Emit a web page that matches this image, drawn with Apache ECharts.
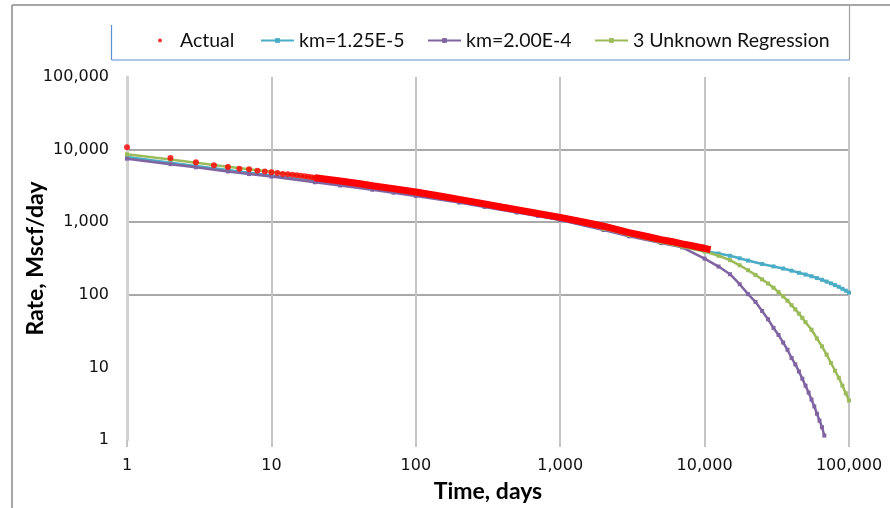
<!DOCTYPE html>
<html>
<head>
<meta charset="utf-8">
<script src="https://cdn.jsdelivr.net/npm/echarts@6/dist/echarts.min.js"></script>
<style>html,body{margin:0;padding:0;background:#fff;}#c{width:890px;height:508px;}</style>
</head>
<body>
<div id="c"></div>
<script>
// ---- data ----
const actualDaysSparse = [1,2,3,4,5,6,7,8,9,10,11,12,13,14,15,16,17,18,19,20];
const actualRateSparse = [10800,7650,6700,6100,5750,5450,5350,5130,5000,4870,4760,4620,4560,4520,4420,4380,4290,4240,4150,4100];
const actualDaysBand = [20,30,40,50,70,100,150,200,300,400,500,700,1000,1500,2000,3000,4000,5000,6000,7000,8000,9000,10000,11000];
const actualRateBand = [4100,3700,3420,3180,2900,2600,2280,2060,1790,1610,1490,1320,1165,990,880,718,636,576,539,503,479,456,437,420];

const cyanDays = [1,2,3,5,7,10,20,30,50,70,100,200,300,500,700,1000,2000,3000,5000,7000,10000,12500,15000,17500,20000,25000,30000,35000,40000,45000,50000,55000,60000,65000,70000,75000,80000,85000,90000,95000,100000];
const cyanRate = [7900,6600,5950,5250,4800,4400,3660,3300,2880,2630,2400,1910,1660,1390,1240,1080,800,660,530,460,400,370,345,318,296,266,246,230,215,201,190,180,170,161,152,144,136,129,121,114,107];

const purpleDays = [1,2,3,5,7,10,20,30,50,70,100,200,300,500,700,1000,2000,3000,5000,7000,10000,12500,15000,17500,20000,22500,25000,27500,30000,32500,35000,37500,40000,42500,45000,47500,50000,52500,55000,57500,60000,62500,65000,67500];
const purpleRate = [7500,6300,5700,5000,4600,4250,3550,3200,2800,2550,2300,1860,1620,1360,1220,1070,780,640,515,450,315,245,192,140,102,80,60,46,35,28,22,17.5,13.5,11,8.8,7,5.6,4.5,3.6,2.9,2.3,1.85,1.5,1.15];

const greenDays = [1,2,3,5,7,10,20,30,50,70,100,200,300,500,700,1000,2000,3000,5000,7000,10000,12500,15000,17500,20000,22500,25000,27500,30000,32500,35000,37500,40000,42500,45000,47500,50000,55000,60000,65000,70000,75000,80000,85000,90000,95000,100000];
const greenRate = [8600,7300,6600,5800,5350,4950,4050,3650,3150,2850,2550,2000,1730,1430,1270,1120,810,665,530,460,395,345,300,255,218,188,163,143,125,109,95,83,72,63,55,48,42,33,25,19.5,15,11.5,9,7.2,5.6,4.4,3.5];

const seriesNames = ['Actual','km=1.25E-5','km=2.00E-4','3 Unknown Regression'];
const xTitle = 'Time, days';
const yTitle = 'Rate, Mscf/day';

function pairs(xs, ys){ return xs.map((x,i)=>[x, ys[i]]); }
function fmt(v){ return Math.round(v).toLocaleString('en-US'); }

const chart = echarts.init(document.getElementById('c'));
const lblFont = 'DejaVu Sans';
const txtFont = 'Lato';

function modelSeries(name, color, xs, ys){
  return {
    name, type:'line', data: pairs(xs, ys),
    symbol:'rect', symbolSize:4, showSymbol:true,
    lineStyle:{color, width:2.5}, itemStyle:{color},
    z:2, silent:true, animation:false
  };
}

const legendLeft = [158, 260, 427, 594];
const legends = seriesNames.map((n,i)=>({
  data:[{name:n}],
  left:legendLeft[i], top:30.5, padding:0,
  itemWidth: i===0 ? 4 : 33, itemHeight: i===0 ? 4 : 6, itemGap:0,
  textStyle: i===0
    ? {fontFamily:txtFont, fontSize:19.5, color:'#111', padding:[0,0,0,13]}
    : {fontFamily:txtFont, fontSize:19.5, color:'#111'},
  selectedMode:false
}));

chart.setOption({
  animation:false,
  backgroundColor:'#ffffff',
  grid:{left:127, right:41, top:77, bottom:68, containLabel:false},
  legend: legends,
  xAxis:{
    type:'log', logBase:10, min:1, max:100000,
    name:xTitle, nameLocation:'middle', nameGap:40, nameMoveOverlap:false,
    nameTextStyle:{fontFamily:txtFont, fontWeight:'bold', fontSize:23, color:'#000'},
    axisLine:{show:false},
    axisTick:{show:true, length:7, lineStyle:{color:'#c4c4c4', width:2}},
    axisLabel:{margin:18, fontFamily:lblFont, fontSize:16, color:'#111', formatter:fmt},
    splitLine:{show:true, showMinLine:true, showMaxLine:true, lineStyle:{color:'#c4c4c4', width:2}},
    minorTick:{show:false}
  },
  yAxis:{
    type:'log', logBase:10, min:1, max:100000,
    name:yTitle, nameLocation:'middle', nameGap:80, nameRotate:90, nameMoveOverlap:false,
    nameTextStyle:{fontFamily:txtFont, fontWeight:'bold', fontSize:23, color:'#000'},
    axisLine:{show:true, lineStyle:{color:'#d2d2d2', width:3}},
    axisTick:{show:false},
    axisLabel:{margin:18, fontFamily:lblFont, fontSize:16, color:'#111', formatter:fmt},
    splitLine:{show:true, showMinLine:true, showMaxLine:true,
      lineStyle:{color:['rgba(0,0,0,0)','rgba(0,0,0,0)','#8c8c8c','#8c8c8c','#8c8c8c','rgba(0,0,0,0)'], width:1.5}}
  },
  series:[
    {
      name:seriesNames[0], type:'scatter', data:pairs(actualDaysSparse, actualRateSparse),
      symbol:'circle', symbolSize:6, itemStyle:{color:'#ff0000'}, z:5, silent:true
    },
    modelSeries(seriesNames[1], '#4bacc6', cyanDays, cyanRate),
    modelSeries(seriesNames[2], '#8064a2', purpleDays, purpleRate),
    modelSeries(seriesNames[3], '#9bbb59', greenDays, greenRate),
    {
      name:seriesNames[0], type:'line', data:pairs(actualDaysBand, actualRateBand),
      showSymbol:false, symbol:'none', lineStyle:{color:'#ff0000', width:7}, itemStyle:{color:'#ff0000'},
      z:5, silent:true
    }
  ],
  graphic:[
    {type:'line', shape:{x1:12, y1:5, x2:890, y2:5}, style:{stroke:'#8a8a8a', lineWidth:1.5}, silent:true},
    {type:'line', shape:{x1:12, y1:5, x2:12, y2:508}, style:{stroke:'#8a8a8a', lineWidth:1.5}, silent:true},
    {type:'line', shape:{x1:111.5, y1:25, x2:111.5, y2:60}, style:{stroke:'#5b8fd0', lineWidth:1.2}, silent:true},
    {type:'line', shape:{x1:111.5, y1:60, x2:849.5, y2:60}, style:{stroke:'#5b8fd0', lineWidth:1.2}, silent:true},
    {type:'line', shape:{x1:849.5, y1:5, x2:849.5, y2:60}, style:{stroke:'#a0a0a0', lineWidth:1.2}, silent:true}
  ]
});
</script>
</body>
</html>
